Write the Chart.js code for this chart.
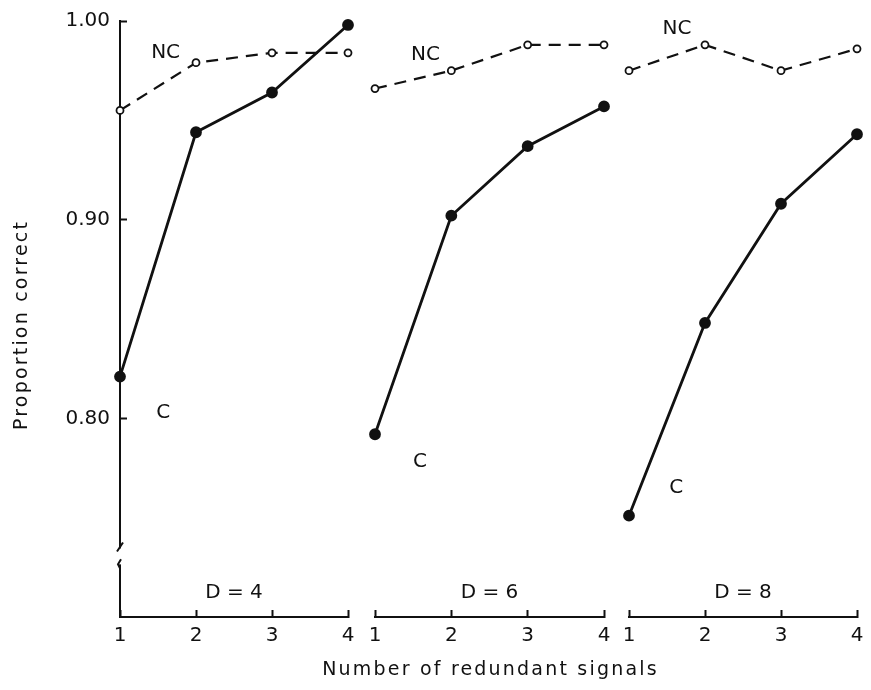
<!DOCTYPE html>
<html lang="en">
<head>
    <meta charset="UTF-8">
    <title>Proportion correct by number of redundant signals</title>
    <script src="https://cdn.jsdelivr.net/npm/chart.js@4.4.0/dist/chart.umd.min.js"></script>
    <style>
        body {
            margin: 0;
            background: #fff;
        }
        .wrap {
            position: relative;
            width: 871px;
            height: 690px;
        }
        .wrap canvas {
            position: absolute;
            top: 0;
            left: 0;
        }
    </style>
</head>
<body>

<!-- three stacked transparent canvases, one per panel -->
<div class="wrap">
    <canvas id="panel1" width="871" height="690"></canvas>
    <canvas id="panel2" width="871" height="690"></canvas>
    <canvas id="panel3" width="871" height="690"></canvas>
</div>

<script>
    // values
    const signals = [1, 2, 3, 4];
    const conditions = ['D = 4', 'D = 6', 'D = 8'];
    const correctD4 = [0.821, 0.944, 0.964, 0.998];
    const noCueD4 = [0.955, 0.979, 0.984, 0.984];
    const correctD6 = [0.792, 0.902, 0.937, 0.957];
    const noCueD6 = [0.966, 0.975, 0.988, 0.988];
    const correctD8 = [0.751, 0.848, 0.908, 0.943];
    const noCueD8 = [0.975, 0.988, 0.975, 0.986];
    const yTicks = [0.80, 0.90, 1.00];

    const Y_MIN = 0.70, Y_MAX = 1.00;
    const INK = '#111';
    const FONT = 'DejaVu Sans';

    Chart.defaults.font.family = FONT;
    Chart.defaults.color = INK;

    // panel placement + where the curve labels sit (data units)
    const panels = [
        { id: 'panel1', c: correctD4, nc: noCueD4, padding: { top: 21, left: 0, right: 523, bottom: 0 },
          ncAt: [1.60, 0.984], cAt: [1.57, 0.803], yAxis: true, xTitle: false },
        { id: 'panel2', c: correctD6, nc: noCueD6, padding: { top: 21, left: 375, right: 267, bottom: 0 },
          ncAt: [1.66, 0.983], cAt: [1.59, 0.778], yAxis: false, xTitle: true },
        { id: 'panel3', c: correctD8, nc: noCueD8, padding: { top: 21, left: 629, right: 14, bottom: 0 },
          ncAt: [1.63, 0.996], cAt: [1.62, 0.765], yAxis: false, xTitle: false }
    ];

    // text inside each panel (NC, C, D = n) plus the spaced-out axis titles
    const panelText = {
        id: 'panelText',
        afterDatasetsDraw(chart, args, opts) {
            const { ctx, scales: { x, y } } = chart;
            ctx.save();
            ctx.fillStyle = INK;
            ctx.font = '20px ' + FONT;
            ctx.textAlign = 'center';
            ctx.textBaseline = 'middle';
            opts.items.forEach(it => {
                ctx.fillText(it.text, x.getPixelForValue(it.at[0]), y.getPixelForValue(it.at[1]));
            });
            ctx.font = '19px ' + FONT;
            ctx.letterSpacing = '2.2px';
            if (opts.xTitle) {
                ctx.fillText(opts.xTitle, (x.left + x.right) / 2 + 1, x.bottom - 20);
            }
            if (opts.yTitle) {
                ctx.translate(22, (y.top + y.bottom) / 2 + 6);
                ctx.rotate(-Math.PI / 2);
                ctx.fillText(opts.yTitle, 0, 0);
            }
            ctx.restore();
        }
    };

    // broken y axis marker near the bottom
    const axisBreak = {
        id: 'axisBreak',
        afterDraw(chart, args, opts) {
            if (!opts.on) return;
            const { ctx, scales: { y } } = chart;
            const x = y.right;
            const y1 = y.getPixelForValue(0.7345);
            const y2 = y.getPixelForValue(0.7265);
            ctx.save();
            ctx.fillStyle = '#fff';
            ctx.fillRect(x - 4, y1, 8, y2 - y1);
            ctx.strokeStyle = INK;
            ctx.lineWidth = 2;
            ctx.beginPath();
            ctx.moveTo(x + 3, y1 - 6);
            ctx.lineTo(x - 3, y1 + 3);
            ctx.moveTo(x + 1, y2 - 5);
            ctx.lineTo(x - 2, y2);
            ctx.lineTo(x, y2 + 4);
            ctx.stroke();
            ctx.restore();
        }
    };

    panels.forEach((p, i) => {
        new Chart(document.getElementById(p.id), {
            type: 'line',
            data: {
                datasets: [
                    {
                        label: 'NC',
                        data: signals.map((s, k) => ({ x: s, y: p.nc[k] })),
                        borderColor: INK,
                        borderWidth: 2.2,
                        borderDash: [12, 8],
                        pointRadius: 3.5,
                        pointBackgroundColor: '#fff',
                        pointBorderColor: INK,
                        pointBorderWidth: 1.8,
                        clip: false
                    },
                    {
                        label: 'C',
                        data: signals.map((s, k) => ({ x: s, y: p.c[k] })),
                        borderColor: INK,
                        borderWidth: 2.8,
                        pointRadius: 4.5,
                        pointBackgroundColor: INK,
                        pointBorderColor: INK,
                        clip: false
                    }
                ]
            },
            options: {
                responsive: false,
                animation: false,
                events: [],
                layout: { padding: p.padding },
                plugins: {
                    legend: { display: false },
                    tooltip: { enabled: false },
                    panelText: {
                        items: [
                            { text: 'NC', at: p.ncAt },
                            { text: 'C', at: p.cAt },
                            { text: conditions[i], at: [2.5, 0.712] }
                        ],
                        xTitle: p.xTitle ? 'Number of redundant signals' : null,
                        yTitle: p.yAxis ? 'Proportion correct' : null
                    },
                    axisBreak: { on: p.yAxis }
                },
                scales: {
                    x: {
                        type: 'linear',
                        min: 1,
                        max: 4,
                        afterBuildTicks: s => { s.ticks = signals.map(v => ({ value: v })); },
                        afterFit: s => { s.height = 73; s.paddingLeft = 0; s.paddingRight = 0; },
                        border: { display: true, color: INK, width: 2 },
                        grid: { drawOnChartArea: false, drawTicks: true, tickLength: -7, tickWidth: 2, color: INK },
                        ticks: { autoSkip: false, maxRotation: 0, padding: 14, font: { size: 20 }, color: INK }
                    },
                    y: {
                        display: p.yAxis,
                        min: Y_MIN,
                        max: Y_MAX,
                        afterBuildTicks: s => { s.ticks = yTicks.map(v => ({ value: v })); },
                        afterFit: s => { s.width = p.yAxis ? 120 : 0; s.paddingTop = 0; s.paddingBottom = 0; },
                        border: { display: true, color: INK, width: 2 },
                        grid: { drawOnChartArea: false, drawTicks: true, tickLength: -7, tickWidth: 2, color: INK },
                        ticks: { padding: 17, font: { size: 20 }, color: INK, callback: v => v.toFixed(2) }
                    }
                }
            },
            plugins: [panelText, axisBreak]
        });
    });
</script>

</body>
</html>
